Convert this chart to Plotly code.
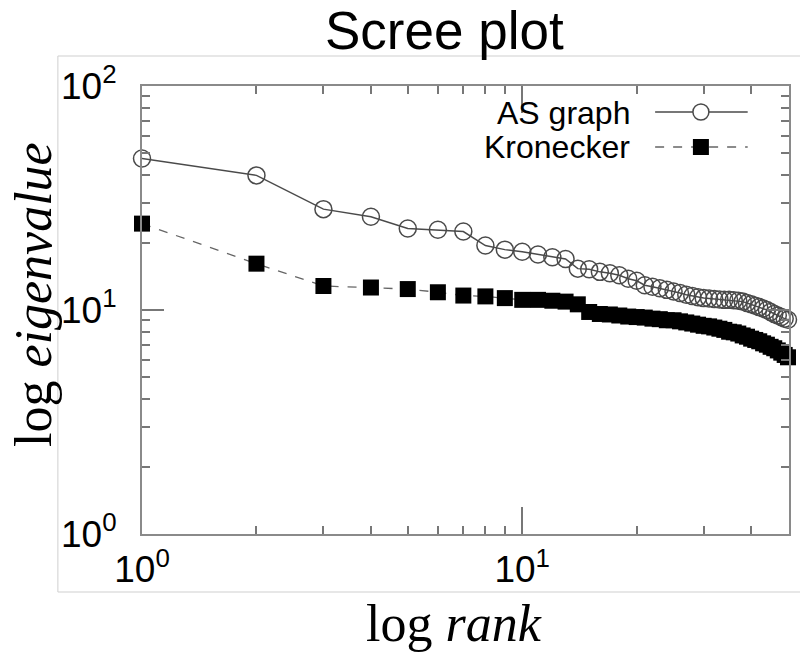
import plotly.graph_objects as go
import numpy as np

# ---- data ----
rank = list(range(1, 51))
as_graph = [47.5, 39.9, 28.2, 26.1, 23.1, 22.8, 22.4, 19.4, 18.6, 18.2,
            17.7, 17.2, 16.9, 15.3, 15.2, 14.8, 14.6, 14.3, 13.8, 13.5,
            12.9, 12.7, 12.5, 12.3, 12.1, 11.9, 11.7, 11.55, 11.4, 11.3,
            11.25, 11.2, 11.15, 11.1, 11.1, 11.05, 11.0, 10.9, 10.75, 10.6,
            10.45, 10.3, 10.15, 10.0, 9.8, 9.6, 9.45, 9.3, 9.15, 9.05]
kronecker = [24.3, 16.1, 12.8, 12.6, 12.4, 12.0, 11.6, 11.5, 11.3, 11.1,
             11.1, 11.0, 10.9, 10.6, 9.8, 9.6, 9.55, 9.45, 9.35, 9.3,
             9.25, 9.15, 9.1, 9.0, 9.0, 8.9, 8.8, 8.7, 8.6, 8.5,
             8.45, 8.35, 8.25, 8.15, 8.0, 7.95, 7.85, 7.7, 7.6, 7.45,
             7.35, 7.25, 7.1, 7.0, 6.85, 6.75, 6.6, 6.45, 6.3, 6.15]

major_vals = [1, 10, 100]
major_text = ["10<sup>0</sup>", "10<sup>1</sup>", "10<sup>2</sup>"]
minor_vals = [2, 3, 4, 5, 6, 7, 8, 9, 20, 30, 40, 50, 60, 70, 80, 90]

title_text = "Scree plot"
x_title = "log <i>rank</i>"
y_title = "log <i>eigenvalue</i>"
legend_names = ["AS graph", "Kronecker"]

W, H = 800, 654
L, R, T, B = 141.5, 791.5, 86, 534

fig = go.Figure()
fig.add_trace(go.Scatter(
    x=rank, y=as_graph, mode="lines+markers", name=legend_names[0],
    line=dict(color="#4a4a4a", width=1.5),
    marker=dict(symbol="circle-open", size=17, color="#4a4a4a",
                line=dict(width=1.5, color="#4a4a4a")),
    cliponaxis=False, showlegend=False))
fig.add_trace(go.Scatter(
    x=rank, y=kronecker, mode="lines+markers", name=legend_names[1],
    line=dict(color="#666666", width=1.3, dash="dash"),
    marker=dict(symbol="square", size=16, color="black",
                line=dict(width=0)),
    cliponaxis=False, showlegend=False))

axis_common = dict(
    type="log", showgrid=False, zeroline=False,
    showline=True, linecolor="#8a8a8a", linewidth=2, mirror="ticks",
    ticks="inside", tickcolor="#777777", tickwidth=1.5,
    tickvals=major_vals, ticktext=major_text,
    tickfont=dict(family="Liberation Sans, Arial", size=37, color="black"),
    minor=dict(tickvals=minor_vals, ticks="inside", ticklen=8,
               tickcolor="#777777", tickwidth=1.5, showgrid=False),
)

fig.update_xaxes(**axis_common, range=[0, np.log10(50.3)], ticklen=27,
                 ticklabelstandoff=2)
fig.update_yaxes(**axis_common, range=[0, 2], ticklen=22,
                 ticklabelstandoff=16)

def px_x(p):
    return (p - L) / (R - L)

def px_y(p):
    return (B - p) / (B - T)

annotations = [
    dict(text=title_text, x=px_x(445), y=px_y(30), xref="paper", yref="paper",
         showarrow=False, xanchor="center", yanchor="middle",
         font=dict(family="Liberation Sans, Arial", size=53, color="black")),
    dict(text=x_title, x=px_x(455), y=px_y(623), xref="paper", yref="paper",
         showarrow=False, xanchor="center", yanchor="middle",
         font=dict(family="Liberation Serif, Times New Roman", size=52, color="black")),
    dict(text=y_title, x=px_x(32), y=px_y(295), xref="paper", yref="paper",
         showarrow=False, xanchor="center", yanchor="middle", textangle=-90,
         font=dict(family="Liberation Serif, Times New Roman", size=52, color="black")),
    dict(text=legend_names[0], x=px_x(634), y=px_y(113), xref="paper", yref="paper",
         showarrow=False, xanchor="right", yanchor="middle",
         font=dict(family="Liberation Sans, Arial", size=32, color="black")),
    dict(text=legend_names[1], x=px_x(634), y=px_y(147), xref="paper", yref="paper",
         showarrow=False, xanchor="right", yanchor="middle",
         font=dict(family="Liberation Sans, Arial", size=32, color="black")),
]

shapes = [
    # outer light frame
    dict(type="rect", xref="paper", yref="paper",
         x0=px_x(57), x1=px_x(806), y0=px_y(592), y1=px_y(56),
         line=dict(color="#cfcfcf", width=1), layer="below"),
    # legend samples
    dict(type="line", xref="paper", yref="paper",
         x0=px_x(657), x1=px_x(750), y0=px_y(112), y1=px_y(112),
         line=dict(color="#4a4a4a", width=1.5)),
    dict(type="circle", xref="paper", yref="paper",
         xsizemode="pixel", ysizemode="pixel",
         xanchor=px_x(703), yanchor=px_y(112), x0=-8, x1=8, y0=-8, y1=8,
         line=dict(color="#4a4a4a", width=1.5), fillcolor="white"),
    dict(type="line", xref="paper", yref="paper",
         x0=px_x(657), x1=px_x(750), y0=px_y(147), y1=px_y(147),
         line=dict(color="#666666", width=1.3, dash="dash")),
    dict(type="rect", xref="paper", yref="paper",
         xsizemode="pixel", ysizemode="pixel",
         xanchor=px_x(703), yanchor=px_y(147), x0=-8, x1=8, y0=-8, y1=8,
         line=dict(width=0), fillcolor="black"),
]

fig.update_layout(
    width=W, height=H,
    margin=dict(l=L, r=W - R, t=T, b=H - B),
    paper_bgcolor="white", plot_bgcolor="white",
    annotations=annotations, shapes=shapes,
    showlegend=False,
)

fig.write_html("out.html")
